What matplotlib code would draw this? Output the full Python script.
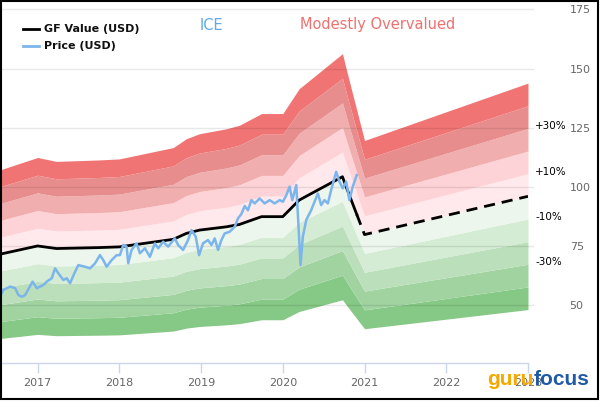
import numpy as np
import matplotlib
matplotlib.use("Agg")
import matplotlib.pyplot as plt
from matplotlib.patches import Rectangle
import matplotlib.transforms as mtransforms

# ---------------- data ----------------
gf_dates = [2016.54, 2017.0, 2017.23, 2017.75, 2018.0, 2018.66, 2018.82, 2018.98,
            2019.31, 2019.47, 2019.74, 2020.0, 2020.2, 2020.73, 2020.78, 2021.0, 2023.0]
gf_values = [71.4, 74.9, 73.8, 74.2, 74.5, 77.7, 80.2, 81.6,
             83.0, 84.0, 87.3, 87.3, 94.3, 104.2, 99.5, 79.7, 95.9]

price_dates = [2016.542, 2016.582, 2016.664, 2016.725, 2016.766, 2016.807, 2016.847, 2016.939,
               2016.990, 2017.071, 2017.112, 2017.173, 2017.214, 2017.254, 2017.315, 2017.357,
               2017.397, 2017.446, 2017.498, 2017.580, 2017.641, 2017.702, 2017.763, 2017.803,
               2017.845, 2017.906, 2017.967, 2018.007, 2018.048, 2018.089, 2018.109, 2018.150,
               2018.211, 2018.252, 2018.313, 2018.374, 2018.435, 2018.475, 2018.536, 2018.597,
               2018.679, 2018.719, 2018.780, 2018.841, 2018.883, 2018.935, 2018.976, 2019.024,
               2019.085, 2019.127, 2019.167, 2019.208, 2019.249, 2019.289, 2019.350, 2019.411,
               2019.452, 2019.493, 2019.534, 2019.574, 2019.615, 2019.656, 2019.717, 2019.778,
               2019.839, 2019.900, 2019.961, 2020.001, 2020.043, 2020.083, 2020.116, 2020.165,
               2020.197, 2020.217, 2020.245, 2020.287, 2020.348, 2020.388, 2020.429, 2020.470,
               2020.510, 2020.551, 2020.592, 2020.653, 2020.693, 2020.734, 2020.775, 2020.815,
               2020.856, 2020.905]
price_values = [53.5, 56.3, 57.7, 57.0, 54.1, 53.4, 54.1, 59.8,
                57.0, 58.4, 59.8, 61.2, 65.4, 63.3, 60.5, 61.2,
                59.1, 63.0, 66.8, 66.1, 65.4, 67.5, 71.0, 68.9,
                66.1, 68.9, 71.0, 71.0, 75.3, 74.6, 67.6, 73.2,
                76.0, 71.8, 73.9, 70.3, 76.0, 73.9, 76.7, 74.6,
                78.1, 75.3, 73.2, 77.4, 81.6, 78.8, 71.0, 76.0,
                77.4, 75.3, 78.1, 73.2, 77.4, 80.2, 80.9, 83.0,
                86.6, 88.4, 91.8, 90.0, 94.3, 92.9, 95.0, 92.9,
                94.3, 92.9, 94.3, 93.6, 96.4, 100.0, 94.3, 100.7,
                80.2, 66.8, 78.8, 85.9, 90.1, 93.6, 97.1, 92.2,
                94.3, 92.9, 98.6, 106.3, 102.1, 99.3, 102.1, 94.3,
                100.0, 104.9]

band_multipliers = [0.5, 0.6, 0.7, 0.8, 0.9, 1.0, 1.1, 1.2, 1.3, 1.4, 1.5]
band_colors = ["#86C886", "#A1D3A1", "#BBDFBB", "#D4EBD4", "#ECF6EC",
               "#FFE9EC", "#FDD3D7", "#F1AEAF", "#E88D8D", "#F17474"]
pct_labels = ["+30%", "+10%", "-10%", "-30%"]
pct_levels = [1.3, 1.1, 0.9, 0.7]

year_ticks = [2017, 2018, 2019, 2020, 2021, 2022, 2023]
y_ticks = [50, 75, 100, 125, 150, 175]

# ---------------- figure ----------------
W, H = 600, 420
fig = plt.figure(figsize=(W / 100, H / 100), dpi=100)
ax = fig.add_axes([0, 1 - 363 / H, 528 / W, (363 - 9.5) / H])
ax.set_xlim(2016.54, 2023.0)
ax.set_ylim(25.34, 175)

gf = np.array(gf_values)
gd = np.array(gf_dates)

for i in range(len(band_colors)):
    ax.fill_between(gd, gf * band_multipliers[i], gf * band_multipliers[i + 1],
                    color=band_colors[i], lw=0, zorder=1)

for yv in y_ticks:
    ax.axhline(yv, xmin=0, xmax=533 / 528, color="#000000", alpha=0.09, lw=1,
               zorder=2, clip_on=False)

# GF value line: solid during price history, dashed afterwards
last_price = price_dates[-1]
split_val = np.interp(last_price, gd, gf)
mask = gd < last_price
ax.plot(list(gd[mask]) + [last_price], list(gf[mask]) + [split_val],
        color="black", lw=2, zorder=4, solid_joinstyle="round")
ax.plot([last_price] + list(gd[~mask]), [split_val] + list(gf[~mask]),
        color="black", lw=2, ls=(0, (4, 2.5)), zorder=4)

ax.plot(price_dates, price_values, color="#7CB5EC", lw=1.8, zorder=5)

# axes styling
for s in ["top", "left", "right"]:
    ax.spines[s].set_visible(False)
ax.spines["bottom"].set_color("#CCD6EB")
ax.spines["bottom"].set_linewidth(1)
ax.set_xticks(year_ticks)
ax.set_xticklabels([str(y) for y in year_ticks])
ax.tick_params(axis="x", direction="out", length=7, color="#CCD6EB", width=1,
               labelcolor="#666666", labelsize=8, pad=4)
ax.yaxis.tick_right()
ax.set_yticks(y_ticks)
ax.set_yticklabels([str(v) for v in y_ticks])
ax.tick_params(axis="y", length=0, labelcolor="#666666", labelsize=8, pad=30)
ax.patch.set_alpha(0)

# percentage labels at right
trans = mtransforms.blended_transform_factory(ax.transAxes, ax.transData)
for lab, lev in zip(pct_labels, pct_levels):
    ax.annotate(lab, xy=(535 / 528, gf[-1] * lev), xycoords=trans,
                xytext=(0, 1.5), textcoords="offset points",
                ha="left", va="center", fontsize=7.5, color="black",
                annotation_clip=False)

# legend
def px(x, y):
    return x / W, 1 - y / H

for (y, col, lab) in [(29, "black", "GF Value (USD)"), (46, "#7CB5EC", "Price (USD)")]:
    fig.add_artist(plt.Line2D([23 / W, 39 / W], [1 - y / H, 1 - y / H], color=col, lw=2))
    fig.text(*px(44, y), lab, fontsize=8, fontweight="bold", color="#111111",
             va="center", ha="left")

fig.text(*px(200, 25), "ICE", fontsize=10.5, color="#5DA8EE", va="center", ha="left")
fig.text(*px(300, 25), "Modestly Overvalued", fontsize=10.5, color="#F07070",
         va="center", ha="left")

# logo
t1 = fig.text(*px(487, 385), "guru", fontsize=15, fontweight="bold",
              color="#F5A800", va="baseline", ha="left", family="Liberation Sans")
ax.annotate("focus", xy=(1, 0), xycoords=t1, xytext=(0, 0), textcoords="offset points",
            fontsize=15, fontweight="bold", color="#1F5AA6", va="bottom", ha="left",
            family="Liberation Sans", annotation_clip=False)

# frame
fig.add_artist(Rectangle((0.5 / W, 1 - 399 / H), 597 / W, 398.5 / H, transform=fig.transFigure,
                         fill=False, edgecolor="black", lw=1.5))

fig.savefig("out.png", dpi=100)
